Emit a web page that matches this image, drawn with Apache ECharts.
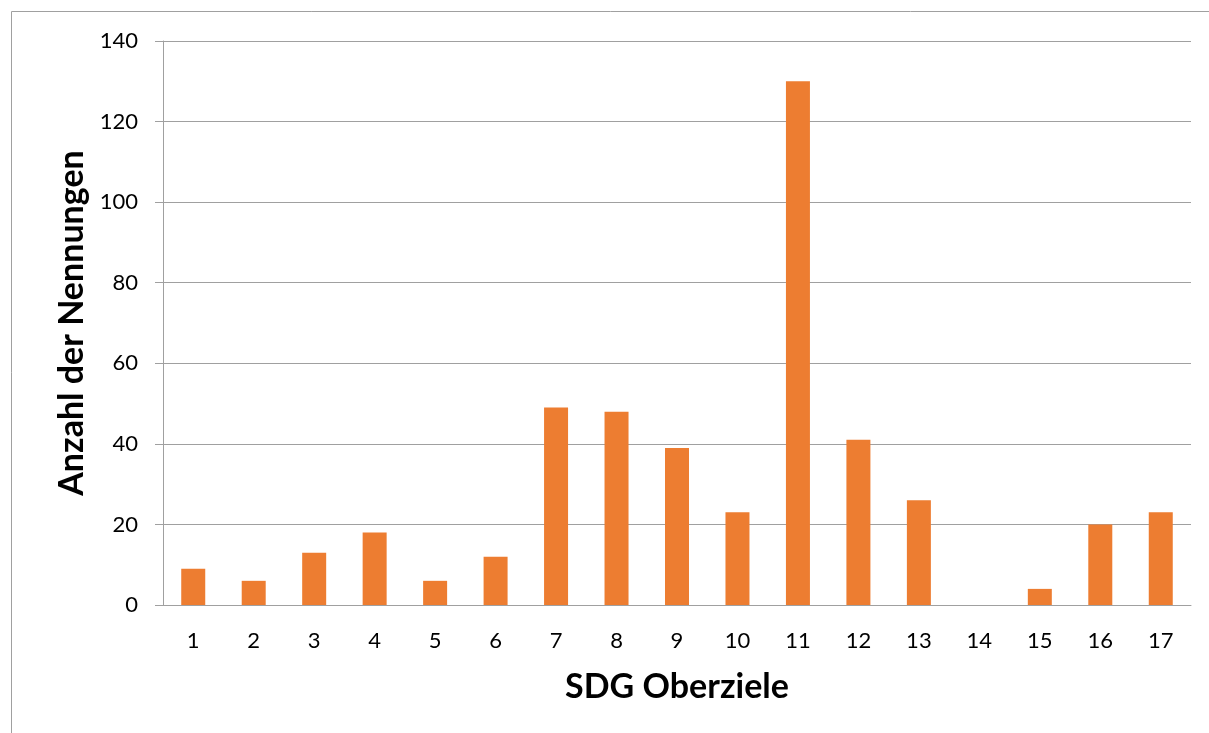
<!DOCTYPE html>
<html>
<head>
<meta charset="utf-8">
<script src="https://cdn.jsdelivr.net/npm/echarts@6/dist/echarts.min.js"></script>
<style>
    html, body { margin: 0; padding: 0; background: #fff; }
    #chart { width: 1209px; height: 733px; }
</style>
</head>
<body>
<div id="chart"></div>
<script>
    // SDG Oberziele 1..17
    var categories = ['1', '2', '3', '4', '5', '6', '7', '8', '9', '10', '11', '12', '13', '14', '15', '16', '17'];
    // Anzahl der Nennungen
    var values = [9, 6, 13, 18, 6, 12, 49, 48, 39, 23, 130, 41, 26, 0, 4, 20, 23];
    var yTicks = { min: 0, max: 140, interval: 20 };

    var font = 'Lato, "Open Sans", sans-serif';
    var grey = '#a0a0a0';

    var chart = echarts.init(document.getElementById('chart'));
    chart.setOption({
        animation: false,
        graphic: [{
            type: 'rect',
            shape: { x: 11.5, y: 11.5, width: 1400, height: 900 },
            style: { fill: 'none', stroke: grey, lineWidth: 1 }
        }],
        grid: { left: 163, right: 18, top: 41, bottom: 128 },
        xAxis: {
            type: 'category',
            data: categories,
            name: 'SDG Oberziele',
            nameLocation: 'middle',
            nameGap: 65,
            nameTextStyle: { fontFamily: font, fontWeight: 'bold', fontSize: 34, color: '#000' },
            axisLine: { lineStyle: { color: grey, width: 1 } },
            axisTick: { length: 8, lineStyle: { color: grey } },
            axisLabel: { fontFamily: font, fontSize: 22, color: '#000', margin: 25 }
        },
        yAxis: {
            type: 'value',
            min: yTicks.min,
            max: yTicks.max,
            interval: yTicks.interval,
            name: 'Anzahl der Nennungen',
            nameLocation: 'middle',
            nameGap: 73,
            nameTextStyle: { fontFamily: font, fontWeight: 'bold', fontSize: 34, color: '#000' },
            axisLine: { show: true, lineStyle: { color: grey, width: 1 } },
            axisTick: { show: true, length: 8, lineStyle: { color: grey } },
            splitLine: { lineStyle: { color: grey, width: 1 } },
            axisLabel: { fontFamily: font, fontSize: 22, color: '#000', margin: 25 }
        },
        series: [{
            type: 'bar',
            data: values,
            barWidth: 24,
            itemStyle: { color: '#ED7D31' }
        }]
    });
</script>
</body>
</html>
